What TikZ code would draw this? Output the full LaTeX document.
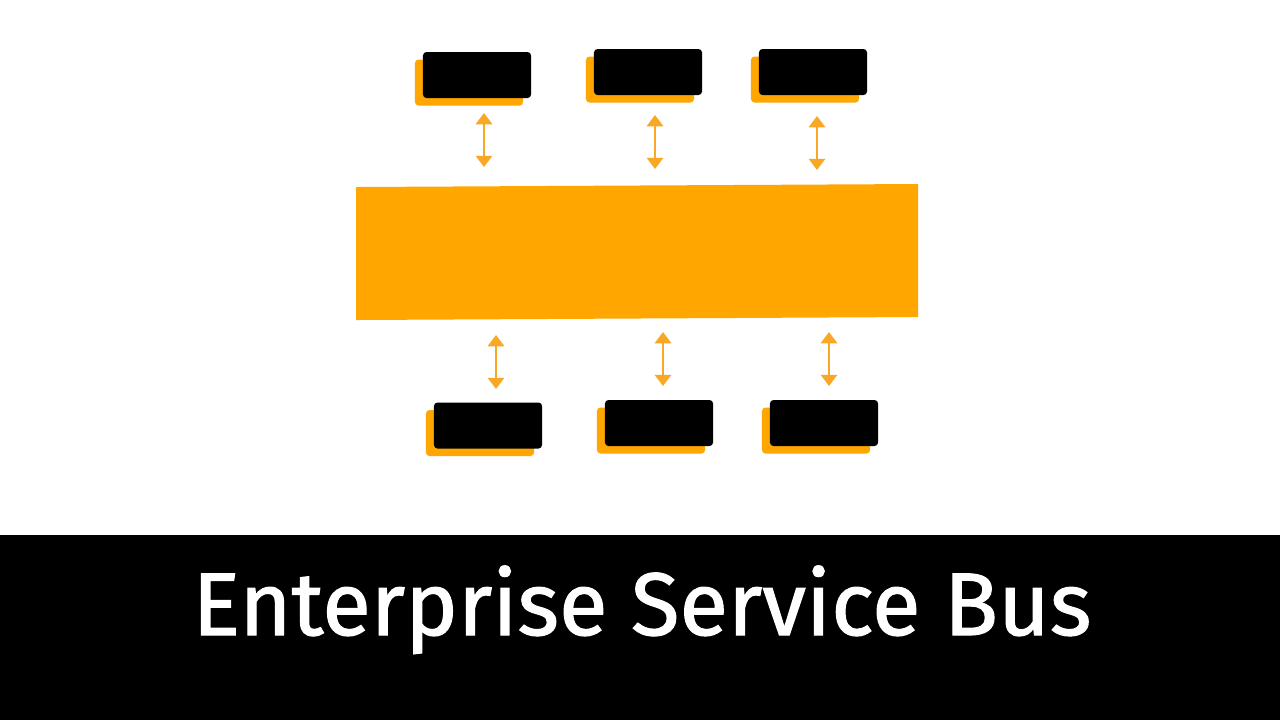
\documentclass[tikz,border=0pt]{standalone}
\usepackage{fontspec}
\setmainfont{Fira Sans}
\newfontfamily\titlefont[FakeBold=1.2]{Fira Sans}
\usetikzlibrary{arrows.meta}
\definecolor{busorange}{HTML}{FFA600}
\definecolor{arroworange}{HTML}{F9A825}
\tikzset{
    shadowbox/.style={fill=busorange, rounded corners=1pt, minimum width=1.08cm, minimum height=0.46cm, inner sep=0pt},
    servicebox/.style={fill=black, rounded corners=1pt, minimum width=1.08cm, minimum height=0.46cm, inner sep=0pt},
    link/.style={arroworange, line width=0.8pt, {Triangle[width=4.6pt,length=3.2pt]}-{Triangle[width=4.6pt,length=3.2pt]}}
}
% a service: orange shadow behind a black box, #2/#3 = centre of the black box
\newcommand{\service}[3]{
    \node[shadowbox] (#1s) at (#2-8,#3+7.5) {};
    \node[servicebox] (#1) at (#2,#3) {};
}
\begin{document}
\begin{tikzpicture}[x=0.01cm, y=-0.01cm]
        \useasboundingbox (0,0) rectangle (1280,720);
        \fill[white] (0,0) rectangle (1280,720);
        % title band
        \fill[black] (0,535) rectangle (1280,720);
        \node[white, font=\titlefont\fontsize{25.3}{30}\selectfont, anchor=base] (title) at (642,635) {Enterprise Service Bus};
        % the bus
        \fill[busorange] (356,187) -- (918,184) -- (918,317) -- (356,320) -- cycle;
        \node (bus) at (637,252) {};
        % services
        \service{a}{477}{75}
        \service{b}{648}{72}
        \service{c}{813}{72}
        \service{d}{488}{425.5}
        \service{e}{659}{423}
        \service{f}{824}{423}
        % arrow ends
        \coordinate (a1) at (484,113);  \coordinate (a2) at (484,167);
        \coordinate (b1) at (655,115);  \coordinate (b2) at (655,169);
        \coordinate (c1) at (817,116);  \coordinate (c2) at (817,170);
        \coordinate (d1) at (496,335);  \coordinate (d2) at (496,389);
        \coordinate (e1) at (663,332);  \coordinate (e2) at (663,386);
        \coordinate (f1) at (829,332);  \coordinate (f2) at (829,386);
        \foreach \p in {a,b,c,d,e,f}
            \draw[link] (\p1) -- (\p2);
    \end{tikzpicture}
\end{document}
